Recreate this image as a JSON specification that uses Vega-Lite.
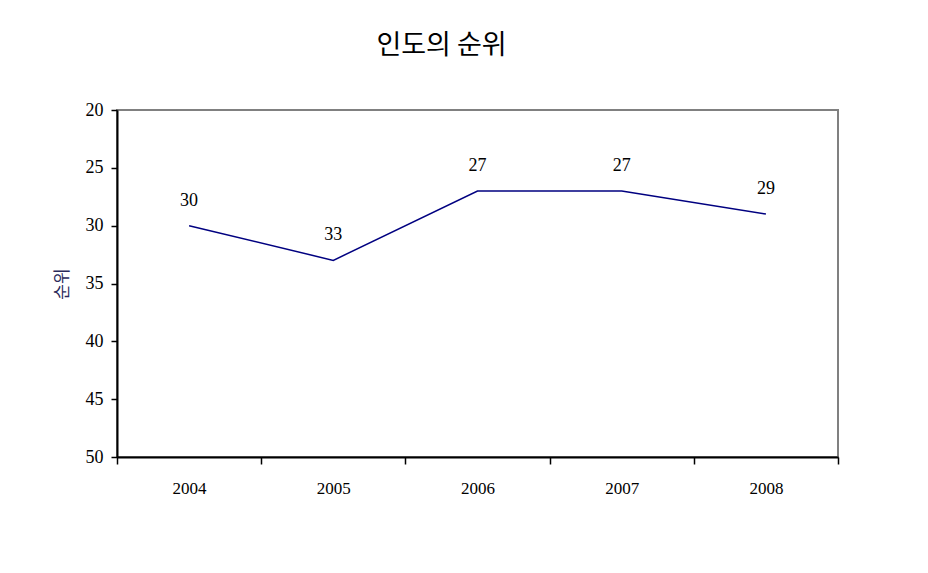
{
  "$schema": "https://vega.github.io/schema/vega-lite/v6.json",
  "autosize": {"type": "none"},
  "width": 721,
  "height": 347,
  "padding": {"left": 117, "top": 110, "right": 90, "bottom": 116},
  "background": "white",
  "title": {
    "text": "인도의 순위",
    "font": "Noto Sans CJK KR",
    "fontSize": 27,
    "fontWeight": "normal",
    "color": "black",
    "anchor": "middle",
    "dx": -36,
    "offset": 20,
    "baseline": "alphabetic"
  },
  "data": {
    "values": [
      {"year": "2004", "rank": 30},
      {"year": "2005", "rank": 33},
      {"year": "2006", "rank": 27},
      {"year": "2007", "rank": 27},
      {"year": "2008", "rank": 29}
    ]
  },
  "encoding": {
    "x": {
      "field": "year",
      "type": "ordinal",
      "bandPosition": 0.5,
      "scale": {"type": "band", "paddingInner": 0, "paddingOuter": 0},
      "axis": {
        "title": null,
        "labelAngle": 0,
        "labelFont": "Liberation Serif",
        "labelFontSize": 17,
        "labelColor": "black",
        "labelPadding": 16,
        "tickBand": "extent",
        "tickSize": 7,
        "tickColor": "black",
        "tickWidth": 1.5,
        "domainColor": "black",
        "domainWidth": 2
      }
    },
    "y": {
      "field": "rank",
      "type": "quantitative",
      "scale": {"domain": [20, 50], "reverse": true, "nice": false, "zero": false},
      "axis": {
        "title": "순위",
        "titleFont": "Noto Sans CJK KR",
        "titleFontSize": 17,
        "titleFontWeight": "normal",
        "titleColor": "#2a2a5a",
        "titlePadding": 14,
        "values": [20, 25, 30, 35, 40, 45, 50],
        "labelFont": "Liberation Serif",
        "labelFontSize": 18,
        "labelColor": "black",
        "labelPadding": 8,
        "tickSize": 6,
        "tickColor": "black",
        "tickWidth": 1.5,
        "domainColor": "black",
        "domainWidth": 2,
        "grid": false
      }
    }
  },
  "layer": [
    {"mark": {"type": "line", "color": "#000080", "strokeWidth": 1.5}},
    {
      "mark": {
        "type": "text",
        "font": "Liberation Serif",
        "fontSize": 18,
        "color": "black",
        "baseline": "alphabetic",
        "dy": -20
      },
      "encoding": {"text": {"field": "rank", "type": "quantitative"}}
    }
  ],
  "config": {
    "view": {"stroke": "#808080", "strokeWidth": 2}
  }
}
